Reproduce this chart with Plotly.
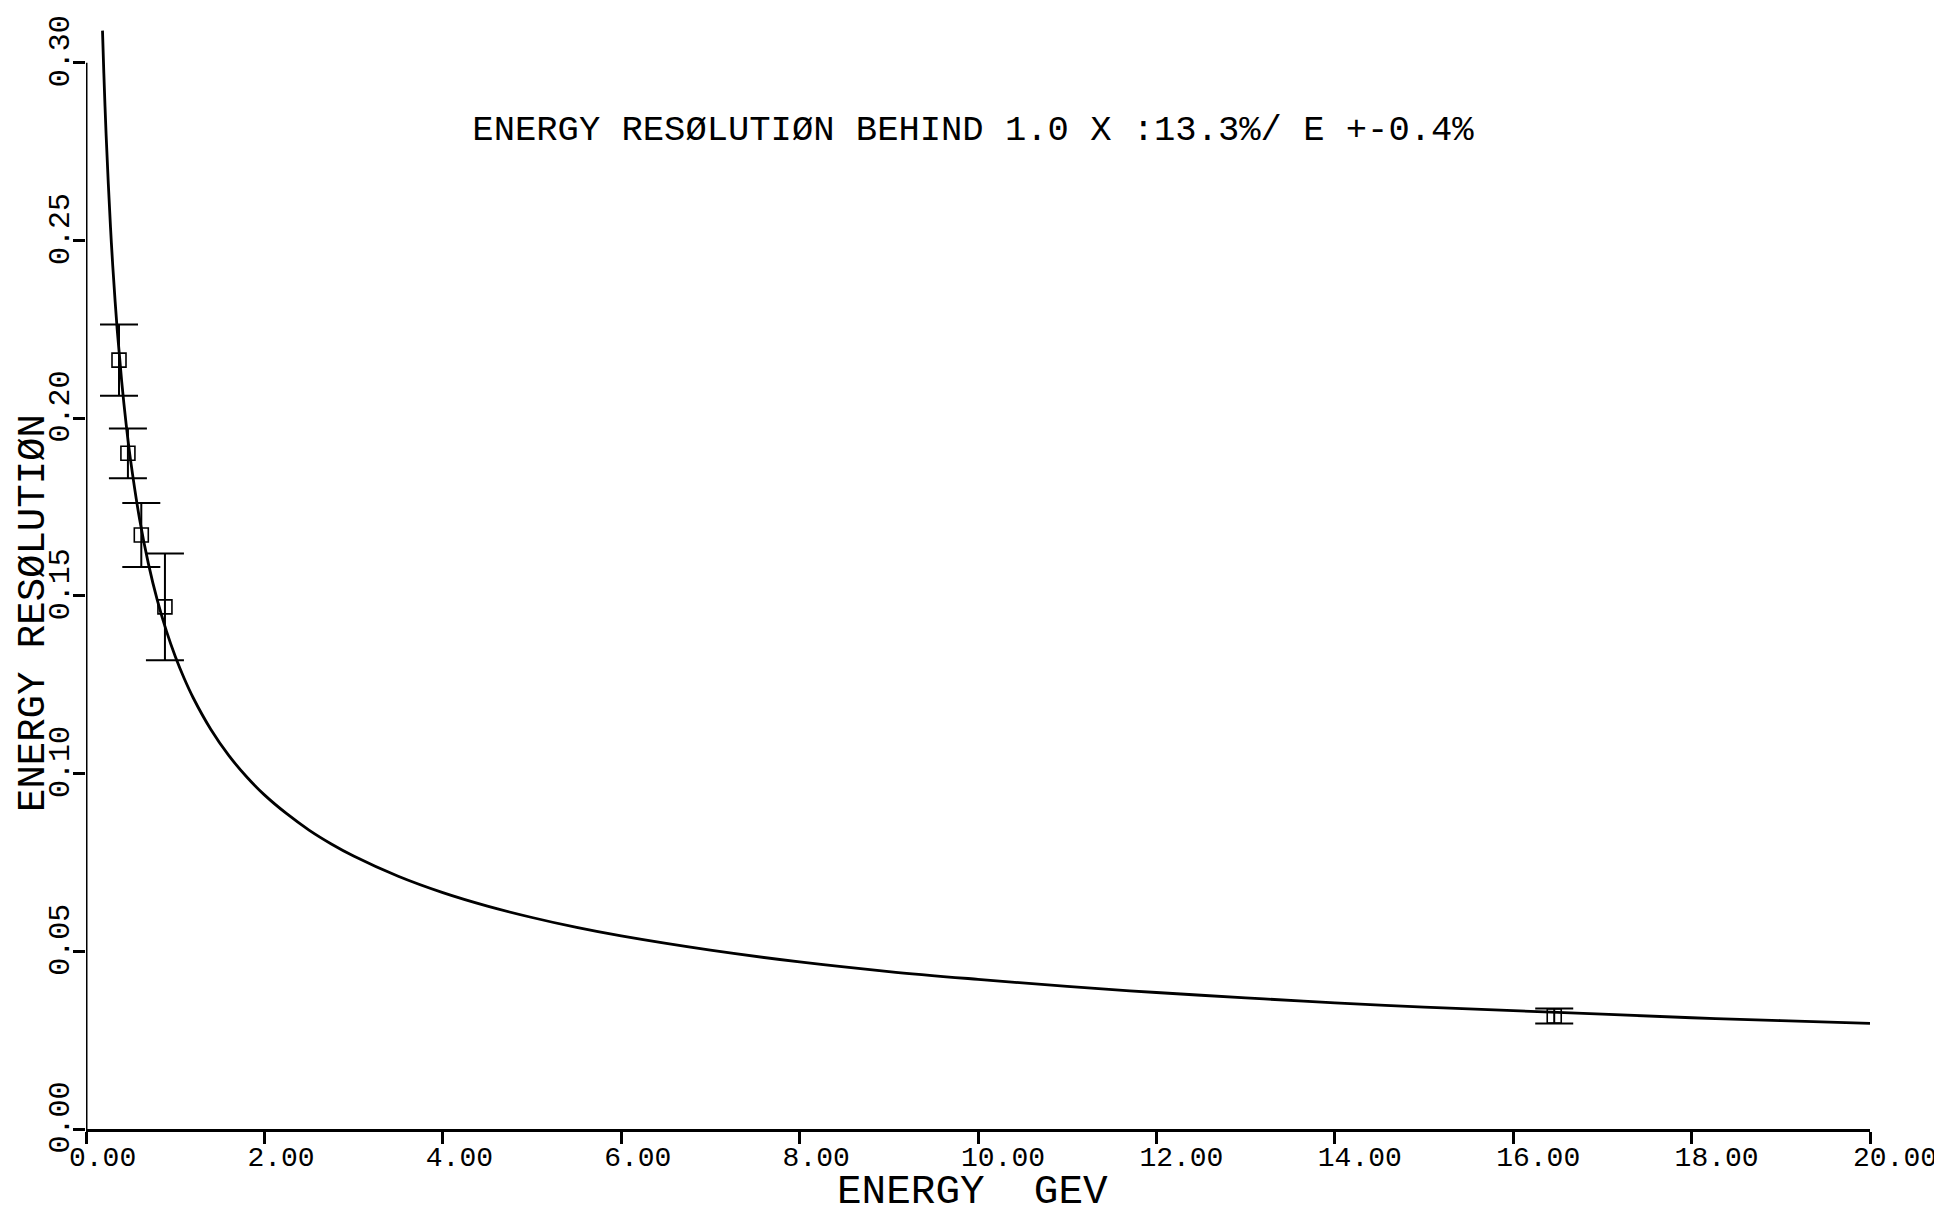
import plotly.graph_objects as go

# ---- data ----
curve_e = [0.185, 0.20, 0.225, 0.25, 0.275, 0.30, 0.35, 0.40, 0.45, 0.50, 0.60, 0.70,
           0.80, 0.90, 1.00, 1.10, 1.20, 1.40, 1.60, 1.80, 2.00, 2.25, 2.50, 2.75,
           3.00, 3.50, 4.00, 4.50, 5.00, 5.50, 6.00, 7.00, 8.00, 9.00, 10.0, 11.0,
           12.0, 13.0, 14.0, 15.0, 16.0, 17.0, 18.0, 19.0, 20.0]
curve_r = [0.309, 0.297, 0.280, 0.266, 0.2536, 0.2428, 0.2248, 0.2103, 0.1983, 0.1881, 0.1717, 0.1590,
           0.1487, 0.1402, 0.1330, 0.1268, 0.1214, 0.1124, 0.1051, 0.0991, 0.0940, 0.0887, 0.0841, 0.0802,
           0.0768, 0.0711, 0.0665, 0.0627, 0.0595, 0.0567, 0.0543, 0.0503, 0.0470, 0.0443, 0.0421, 0.0401,
           0.0384, 0.0369, 0.0355, 0.0343, 0.0333, 0.0323, 0.0313, 0.0305, 0.0297]

data_e = [0.37, 0.47, 0.62, 0.885, 16.46]
data_r = [0.2163, 0.1901, 0.1671, 0.1469, 0.0318]
data_err = [0.0100, 0.0070, 0.0090, 0.0150, 0.0021]

x_ticks = [0, 2, 4, 6, 8, 10, 12, 14, 16, 18, 20]
x_tick_labels = ["0.00", "2.00", "4.00", "6.00", "8.00", "10.00", "12.00",
                 "14.00", "16.00", "18.00", "20.00"]
y_ticks = [0.0, 0.05, 0.10, 0.15, 0.20, 0.25, 0.30]
y_tick_labels = ["0.00", "0.05", "0.10", "0.15", "0.20", "0.25", "0.30"]

title_text = "ENERGY RESØLUTIØN BEHIND 1.0 X :13.3%/ E +-0.4%"
x_title = "ENERGY  GEV"
y_title = "ENERGY RESØLUTIØN"

# ---- layout geometry ----
W, H = 1934, 1208
ML, MR, MT, MB = 86, 64, 20, 79
PW, PH = W - ML - MR, H - MT - MB
FONT = "Liberation Mono"


def px_x(px):
    return (px - ML) / PW


def px_y(py):
    return (H - MB - py) / PH


# left-align the tick labels: pad short labels so all have equal width
x_text = [t + "\u00a0" * (5 - len(t)) for t in x_tick_labels]

fig = go.Figure()
fig.add_trace(go.Scatter(
    x=curve_e, y=curve_r, mode="lines",
    line=dict(color="black", width=2.8, shape="spline", smoothing=1.0),
    hoverinfo="skip", showlegend=False))
fig.add_trace(go.Scatter(
    x=data_e, y=data_r, mode="markers",
    marker=dict(symbol="square-open", size=14, color="black",
                line=dict(width=1.6, color="black")),
    error_y=dict(type="data", array=data_err, symmetric=True,
                 color="black", thickness=2, width=19),
    showlegend=False))

fig.add_shape(type="line", xref="x", yref="y", x0=0, x1=0, y0=0, y1=0.30,
              line=dict(color="black", width=3))

fig.update_layout(
    width=W, height=H,
    margin=dict(l=ML, r=MR, t=MT, b=MB, autoexpand=False),
    paper_bgcolor="white", plot_bgcolor="white",
    title=dict(text=title_text, x=973 / W, xref="container", xanchor="center",
               y=1 - 128 / H, yref="container", yanchor="middle",
               font=dict(family=FONT, size=35.5, color="black")),
    xaxis=dict(range=[0, 20], tickvals=x_ticks, ticktext=x_text,
               ticks="outside", ticklen=12, tickwidth=2.5, tickcolor="black",
               showline=True, linecolor="black", linewidth=3,
               showgrid=False, zeroline=False, ticklabelshift=25,
               ticklabelstandoff=-12, ticklabeloverflow="allow", automargin=False,
               tickfont=dict(family=FONT, size=28, color="black")),
    yaxis=dict(range=[0, 0.312], tickvals=y_ticks, ticktext=y_tick_labels,
               ticks="outside", ticklen=12, tickwidth=2.5, tickcolor="black",
               showline=False, showgrid=False, zeroline=False,
               tickangle=-90, ticklabelshift=-7, ticklabelstandoff=-8,
               ticklabeloverflow="allow", automargin=False,
               tickfont=dict(family=FONT, size=30, color="black")),
    annotations=[
        dict(text=x_title, xref="paper", yref="paper", x=px_x(972), y=px_y(1192),
             xanchor="center", yanchor="middle", showarrow=False,
             font=dict(family=FONT, size=41, color="black")),
        dict(text=y_title, xref="paper", yref="paper", x=px_x(34), y=px_y(613),
             xanchor="center", yanchor="middle", showarrow=False, textangle=-90,
             font=dict(family=FONT, size=39, color="black")),
    ],
)

fig.write_html("out.html", config={"displayModeBar": False},
               post_script="document.body.style.margin='0px';")
